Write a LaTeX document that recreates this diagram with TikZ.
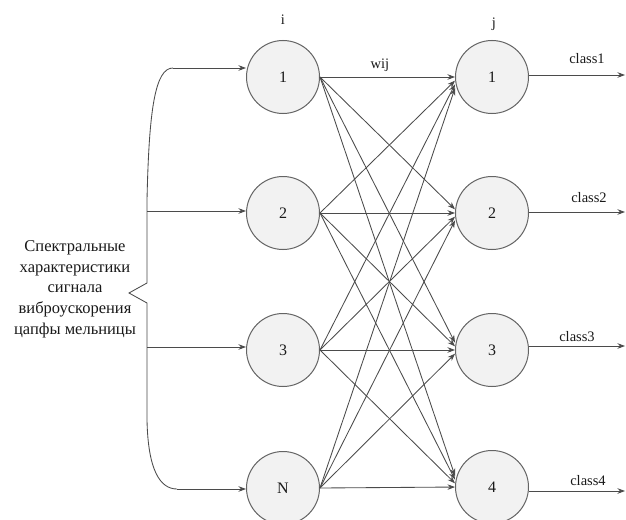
\documentclass[tikz,border=0pt]{standalone}
\usepackage{fontspec}
\setmainfont{Liberation Serif}
\usetikzlibrary{arrows.meta,calc}
\definecolor{linec}{RGB}{75,75,75}
\definecolor{circc}{RGB}{100,100,100}
\definecolor{fillc}{RGB}{242,242,242}
\definecolor{txtc}{RGB}{25,25,25}
\begin{document}
\begin{tikzpicture}[x=1pt,y=-1pt,
  neuron/.style={circle,draw=circc,line width=1pt,fill=fillc,minimum size=73pt,inner sep=0pt,text=txtc,font=\fontsize{16}{18}\selectfont},
  conn/.style={draw=linec,line width=0.85pt,-{Stealth[length=7.5pt,width=5.5pt]}},
  lbl/.style={text=txtc,font=\fontsize{14.5}{16}\selectfont,inner sep=0pt}]
\clip (0,0) rectangle (626,519);
\fill[white] (0,0) rectangle (626,519);
% input neurons
\node[neuron] (L1) at (283,77) {1};
\node[neuron] (L2) at (283,213) {2};
\node[neuron] (L3) at (283,350) {3};
\node[neuron] (L4) at (283,488) {N};
% output neurons
\node[neuron] (R1) at (492,77) {1};
\node[neuron] (R2) at (492,213) {2};
\node[neuron] (R3) at (492,350) {3};
\node[neuron] (R4) at (492,487) {4};
% layer labels
\node[lbl] (li) at (283,20) {i};
\node[lbl] (lj) at (494,24) {j};
\node[lbl] (lw) at (380,65) {wij};
% weights
\foreach \a/\ya in {1/77,2/213,3/350,4/488}
  \foreach \b/\yb in {1/77,2/213,3/350,4/487}
    \draw[conn] (L\a.east) -- ($(R\b.west)+(0,{0.027*(\ya-\yb)})$);
% outputs
\coordinate (o1) at (625,75);
\coordinate (o2) at (625,212);
\coordinate (o3) at (625,346);
\coordinate (o4) at (625,491);
\draw[conn] (R1.east |- o1) -- (o1);
\draw[conn] (R2.east |- o2) -- (o2);
\draw[conn] ($(R3.east |- o3)+(-0.3,0)$) -- (o3);
\draw[conn] ($(R4.east |- o4)+(-0.5,0)$) -- (o4);
\node[lbl] (c1) at (587,59) {class1};
\node[lbl] (c2) at (589,198) {class2};
\node[lbl] (c3) at (577,337) {class3};
\node[lbl] (c4) at (588,481) {class4};
% brace
\coordinate (b1) at (173,68);
\coordinate (b2) at (147,211);
\coordinate (b3) at (147,347);
\coordinate (b4) at (177,489);
\draw[draw=linec,line width=0.85pt] (b1) .. controls (155,68) and (149,110) .. (147,200) -- (147,283) -- (129,293) -- (147,303) -- (147,420) .. controls (148,470) and (160,489) .. (b4);
\draw[conn] (b1) -- (b1 -| L1.west);
\draw[conn] (b2) -- (b2 -| L2.west);
\draw[conn] (b3) -- (b3 -| L3.west);
\draw[conn] (b4) -- (b4 -| L4.west);
% description
\node[text=txtc,align=center,font=\fontsize{16.5}{20.7}\selectfont,inner sep=0pt] (desc) at (75,289)
  {Спектральные\\характеристики\\сигнала\\виброускорения\\цапфы мельницы};
\end{tikzpicture}
\end{document}
